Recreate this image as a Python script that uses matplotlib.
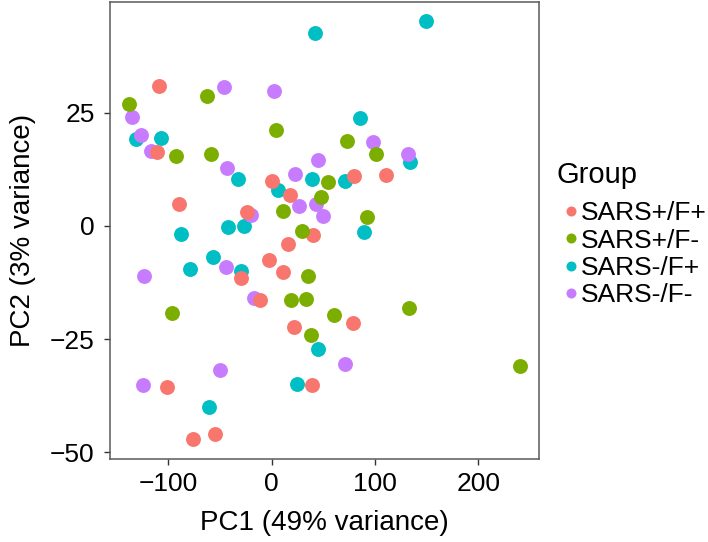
import matplotlib
matplotlib.use("Agg")
import matplotlib.pyplot as plt
from matplotlib.lines import Line2D

plt.rcParams['font.family'] = ['Liberation Sans', 'DejaVu Sans']

# PCA scores, one pair of lists per group
groups = ['SARS+/F+', 'SARS+/F-', 'SARS-/F+', 'SARS-/F-']
colors = ['#F8766D', '#7CAE00', '#00BFC4', '#C77CFF']

pc1_pos_fpos = [-109.1, -111.0, -89.7, -24.0, 0.8, 17.9, 79.8, 110.4, 39.8, 15.5,
                -2.9, 11.1, -29.2, -11.1, 22.2, 78.5, -101.1, 39.2, -54.6, -76.2]
pc2_pos_fpos = [30.9, 16.3, 4.9, 3.1, 10.0, 6.8, 11.1, 11.3, -1.9, -4.0,
                -7.5, -10.1, -11.6, -16.3, -22.3, -21.5, -35.5, -35.0, -45.9, -47.1]

pc1_pos_fneg = [-137.8, -62.1, 4.4, -92.1, -58.7, 72.7, 101.4, 54.4, 47.4, 11.3,
                29.3, 92.1, 35.3, 18.4, 33.7, 60.0, -96.5, 38.2, 132.7, 240.3]
pc2_pos_fneg = [26.9, 28.6, 21.1, 15.5, 15.9, 18.8, 15.8, 9.7, 6.3, 3.3,
                -1.1, 1.9, -11.0, -16.4, -16.1, -19.7, -19.2, -24.1, -18.1, -30.9]

pc1_neg_fpos = [41.6, 149.1, -131.3, -106.9, -32.1, 85.3, 39.2, 71.1, 133.7, 6.1,
                -87.2, -42.1, -26.6, 89.7, -56.3, -79.3, -29.2, 44.8, 25.0, -60.4]
pc2_neg_fpos = [42.6, 45.2, 19.2, 19.3, 10.4, 23.8, 10.4, 10.0, 14.1, 7.9,
                -1.8, -0.3, 0.0, -1.4, -6.8, -9.6, -10.0, -27.2, -34.9, -39.9]

pc1_neg_fneg = [-45.9, 2.7, -134.6, -126.0, -117.0, -43.5, 45.3, 97.9, 132.3, 23.0,
                43.0, 26.9, 50.1, -19.6, -44.0, -123.0, -16.9, 71.4, -50.1, -124.0]
pc2_neg_fneg = [30.7, 29.7, 24.0, 20.1, 16.5, 12.7, 14.6, 18.5, 15.9, 11.5,
                4.8, 4.3, 2.1, 2.4, -9.0, -11.0, -16.0, -30.4, -31.9, -35.0]

xs = [pc1_pos_fpos, pc1_pos_fneg, pc1_neg_fpos, pc1_neg_fneg]
ys = [pc2_pos_fpos, pc2_pos_fneg, pc2_neg_fpos, pc2_neg_fneg]

fig = plt.figure(figsize=(7.08, 5.42), dpi=100)
ax = fig.add_axes([0.1554, 0.1526, 0.6064, 0.8437])

# drawing order so overlaps look like the original
for i in [2, 3, 0, 1]:
    ax.scatter(xs[i], ys[i], s=115, color=colors[i], linewidths=0, zorder=3)

ax.set_xlim(-156.2, 259.0)
ax.set_ylim(-51.5, 49.4)
ax.set_xticks([-100, 0, 100, 200])
ax.set_yticks([-50, -25, 0, 25])
ax.tick_params(labelsize=19, length=4, width=1, color='#333333', labelcolor='black')
ax.tick_params(axis='x', pad=5)
ax.tick_params(axis='y', pad=7)
for sp in ax.spines.values():
    sp.set_color('#5a5a5a')
    sp.set_linewidth(1.1)

ax.set_xlabel('PC1 (49% variance)', fontsize=20, labelpad=10)
ax.set_ylabel('PC2 (3% variance)', fontsize=20, labelpad=10)

handles = [Line2D([], [], marker='o', linestyle='none', markersize=7.2,
                  markerfacecolor=c, markeredgewidth=0) for c in colors]
leg = fig.legend(handles, groups, title='Group', loc='upper left',
                 bbox_to_anchor=(557 / 708, 1 - 161 / 542), frameon=False,
                 fontsize=19, title_fontsize=21, handlelength=1.05,
                 handletextpad=-0.15, labelspacing=0.12, borderpad=0,
                 borderaxespad=0, alignment='left')
# extra gap between the title and the keys
leg._legend_box.sep = 9

fig.savefig('out.png', dpi=100)
